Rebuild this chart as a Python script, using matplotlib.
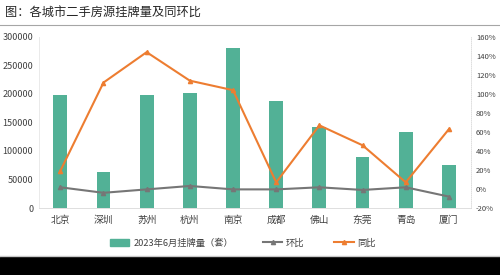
import matplotlib
matplotlib.use("Agg")
import matplotlib.pyplot as plt
from matplotlib.lines import Line2D
from matplotlib.patches import Patch, Rectangle
from matplotlib.ticker import FuncFormatter

plt.rcParams['font.family'] = ['Noto Sans CJK SC', 'DejaVu Sans']

cities = ["北京", "深圳", "苏州", "杭州", "南京", "成都", "佛山", "东莞", "青岛", "厦门"]
listings = [197500, 63000, 199000, 201500, 280000, 187000, 142500, 89000, 133000, 75500]
mom = [1.8, -4.0, -0.4, 3.2, -0.4, -0.4, 1.8, -1.0, 1.8, -8.0]
yoy = [19, 112, 144, 114, 104, 7, 67, 46, 7, 63]

title = "图：各城市二手房源挂牌量及同环比"
bar_label = "2023年6月挂牌量（套）"
mom_label = "环比"
yoy_label = "同比"

green = "#52B196"
orange = "#ED7D31"
gray = "#767676"

fig = plt.figure(figsize=(5, 2.75), dpi=100)
ax = fig.add_axes([0.0774, 0.2436, 0.8636, 0.622])
x = list(range(len(cities)))
ax.bar(x, listings, width=0.32, color=green, zorder=2)
ax.set_ylim(0, 300000)
ax.set_yticks(range(0, 300001, 50000))
ax.set_xlim(-0.5, len(cities) - 0.5)
ax.set_xticks(x)
ax.set_xticklabels(cities, fontsize=7, color="#404040")
ax.tick_params(axis='y', labelsize=6.5, colors="#404040", length=0, pad=4)
ax.tick_params(axis='x', length=0, pad=5)
for s in ["top", "right"]:
    ax.spines[s].set_visible(False)
ax.spines["left"].set_color("#E6E6E6")
ax.spines["bottom"].set_color("#D9D9D9")
ax.spines["left"].set_linewidth(0.6)
ax.spines["bottom"].set_linewidth(0.6)

ax2 = ax.twinx()
ax2.set_ylim(-20, 160)
ax2.set_yticks(range(-20, 161, 20))
ax2.yaxis.set_major_formatter(FuncFormatter(lambda v, p: f"{int(v)}%"))
ax2.tick_params(axis='y', labelsize=5.5, colors="#404040", length=0, pad=4)
for s in ["top", "left", "bottom"]:
    ax2.spines[s].set_visible(False)
ax2.spines["right"].set_color("#D9D9D9")
ax2.spines["right"].set_linestyle((0, (1, 1.5)))
ax2.spines["right"].set_linewidth(0.6)
ax2.plot(x, mom, color=gray, lw=1.5, marker='^', ms=3, zorder=3)
ax2.plot(x, yoy, color=orange, lw=1.5, marker='^', ms=3, zorder=3)

fig.text(0.010, 0.952, title, fontsize=8.8, color="#262626", va="center", ha="left")
fig.add_artist(Line2D([0, 1], [0.908, 0.908], color="#A6A6A6", lw=0.8, transform=fig.transFigure))

handles = [Patch(color=green),
           Line2D([], [], color=gray, lw=1.5, marker='^', ms=3),
           Line2D([], [], color=orange, lw=1.5, marker='^', ms=3)]
fig.legend(handles, [bar_label, mom_label, yoy_label], loc="center", bbox_to_anchor=(0.486, 0.116),
           ncol=3, frameon=False, fontsize=6.7, handlelength=2.1, handleheight=0.7,
           columnspacing=3.2, handletextpad=0.4, labelcolor="#404040")

fig.add_artist(Rectangle((0, 0), 1, 0.065, transform=fig.transFigure, color="black"))
fig.add_artist(Line2D([0, 1], [0.068, 0.068], color="#C8C8C8", lw=1, transform=fig.transFigure))

fig.savefig("out.png", dpi=100)
